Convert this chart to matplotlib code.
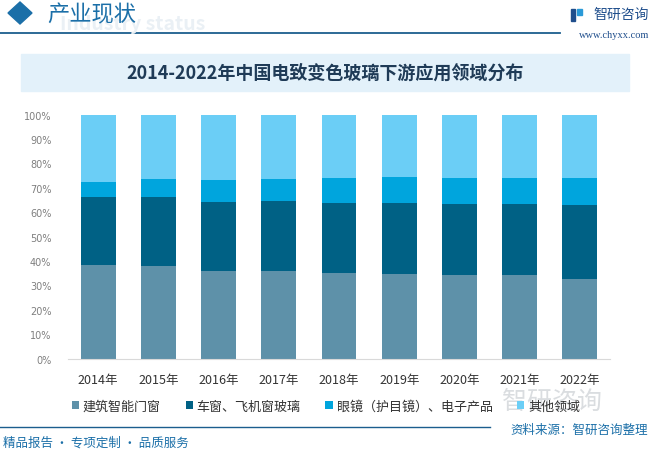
import numpy as np
import matplotlib
matplotlib.use('Agg')
import matplotlib.pyplot as plt
from matplotlib.patches import Polygon, Rectangle

plt.rcParams['font.family'] = ['Noto Sans CJK SC', 'DejaVu Sans']

years = ['2014年', '2015年', '2016年', '2017年', '2018年', '2019年', '2020年', '2021年', '2022年']
series_names = ['建筑智能门窗', '车窗、飞机窗玻璃', '眼镜（护目镜）、电子产品', '其他领域']
building = [38.5, 38.1, 36.1, 36.1, 35.2, 34.7, 34.3, 34.3, 32.7]
vehicle = [27.8, 28.2, 28.1, 28.5, 28.6, 29.1, 29.1, 29.1, 30.3]
glasses = [6.1, 7.3, 9.0, 9.0, 10.2, 10.7, 10.6, 10.6, 11.0]
other = [27.6, 26.4, 26.8, 26.4, 26.0, 25.5, 26.0, 26.0, 26.0]
colors = ['#5E91A9', '#006185', '#00A5DD', '#6BCEF6']

W, H = 650, 452
fig = plt.figure(figsize=(6.5, 4.52), dpi=100)


def fx(px):
    return px / W


def fy(py):
    return 1 - py / H


# header
fig.patches.append(Polygon([[fx(8), fy(14)], [fx(20), fy(3)], [fx(32), fy(14)], [fx(20), fy(25)]],
                           closed=True, transform=fig.transFigure, color='#1B6FA8'))
fig.text(fx(60), fy(24), 'Industry status', fontsize=14, color='#EAF0F5', fontweight='bold',
         ha='left', va='center')
fig.text(fx(47), fy(15), '产业现状', fontsize=16, color='#1B6FA8', ha='left', va='center')
fig.add_artist(plt.Line2D([fx(0), fx(560)], [fy(34), fy(34)], color='#1B5E8E', lw=1.3,
                          transform=fig.transFigure))
# logo
fig.patches.append(Rectangle((fx(571), fy(22)), 4 / W, 12 / H, transform=fig.transFigure, color='#1F4E8C'))
fig.patches.append(Rectangle((fx(577), fy(16)), 5 / W, 6 / H, transform=fig.transFigure, color='#2A9AD8'))
fig.text(fx(593), fy(15), '智研咨询', fontsize=10, color='#1F4E8C', ha='left', va='center')
fig.text(fx(649), fy(35), 'www.chyxx.com', fontsize=7.5, color='#1F4E8C', ha='right', va='center',
         family=['Liberation Serif'])

# title box
fig.patches.append(Rectangle((fx(21), fy(92)), 608 / W, 37 / H, transform=fig.transFigure,
                             color='#E3F1FA', zorder=0))
fig.text(fx(325), fy(73.5), '2014-2022年中国电致变色玻璃下游应用领域分布', fontsize=13,
         fontweight='bold', color='#1F3B57', ha='center', va='center')

# chart
ax = fig.add_axes([fx(68), fy(359.7), (610 - 68) / W, (359.7 - 115.7) / H])
x = np.arange(len(years))
bottom = np.zeros(len(years))
for vals, name, c in zip([building, vehicle, glasses, other], series_names, colors):
    v = np.array(vals) / 100.0
    ax.bar(x, v, 0.58, bottom=bottom, color=c, label=name, zorder=2)
    bottom += v

ax.set_xlim(-0.5, len(years) - 0.5)
ax.set_ylim(0, 1)
ax.set_yticks(np.arange(0, 1.01, 0.1))
ax.set_yticklabels([f'{int(round(t * 100))}%' for t in np.arange(0, 1.01, 0.1)],
                   fontsize=7, color='#7F7F7F', family=['DejaVu Sans'])
ax.set_xticks(x)
ax.set_xticklabels(years, fontsize=9, color='#333333')
ax.tick_params(axis='both', length=0)
ax.tick_params(axis='y', pad=12)
ax.tick_params(axis='x', pad=10)
for s in ['top', 'right', 'left']:
    ax.spines[s].set_visible(False)
ax.spines['bottom'].set_color('#D9D9D9')
ax.patch.set_alpha(0)

# watermark
fig.text(fx(552), fy(402), '智研咨询', fontsize=18, color='#DADDE0', ha='center', va='center', zorder=0)

fig.legend(loc='center', bbox_to_anchor=(fx(326), fy(407.5)), ncol=4, frameon=False,
           fontsize=9.4, handlelength=0.55, handleheight=0.55, handletextpad=0.3,
           columnspacing=1.9, labelcolor='#333333')

# footer
fig.add_artist(plt.Line2D([fx(0), fx(490)], [fy(428), fy(428)], color='#1B5E8E', lw=1.0,
                          transform=fig.transFigure))
fig.text(fx(648), fy(430), '资料来源：智研咨询整理', fontsize=9, color='#1B6FA8', ha='right', va='center')
fig.text(fx(3), fy(443), '精品报告 · 专项定制 · 品质服务', fontsize=9, color='#1B6FA8', ha='left', va='center')

fig.savefig('out.png', dpi=100)
